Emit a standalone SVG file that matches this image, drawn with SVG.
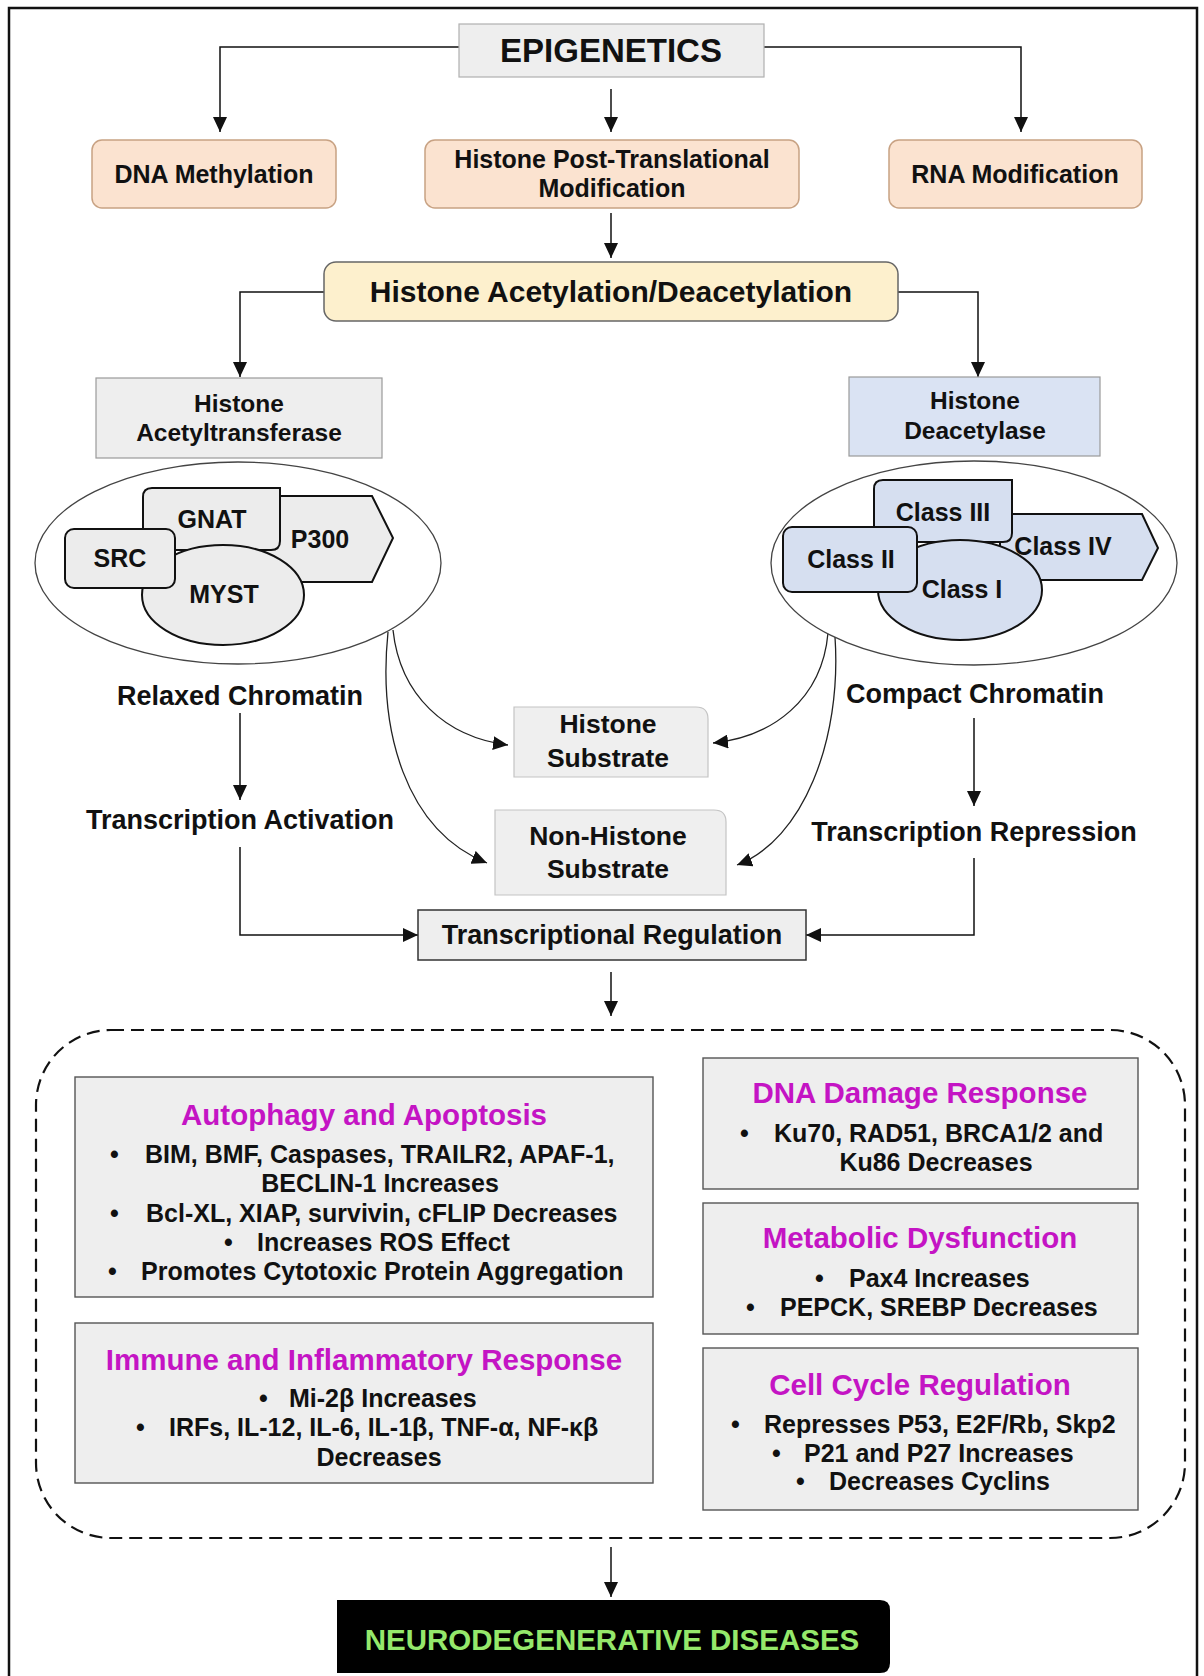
<svg xmlns="http://www.w3.org/2000/svg" width="1204" height="1676" viewBox="0 0 1204 1676">
  <defs>
    <marker id="ah" markerUnits="userSpaceOnUse" markerWidth="15" markerHeight="14" refX="15" refY="7" orient="auto">
      <path d="M0,0 L15,7 L0,14 Z" fill="#111"/>
    </marker>
    <style>
      text{font-family:"Liberation Sans",Arial,sans-serif;font-weight:bold;fill:#111;text-anchor:middle}
      .st{text-anchor:start}
      .f24{font-size:24.5px}
      .f25{font-size:25px}
      .f27{font-size:27px}
      .f30{font-size:30px}
      .ttl{font-size:29.5px;fill:#c414c4}
      .ln{fill:none;stroke:#111;stroke-width:1.5}
      .cv{fill:none;stroke:#222;stroke-width:1.3}
      .peach{fill:#fbe3d0;stroke:#c8a283;stroke-width:1.5}
      .grey{fill:#eeeeee;stroke:#9a9a9a;stroke-width:1.2}
      .blue{fill:#dae3f3;stroke:#9a9a9a;stroke-width:1.2}
      .shp{fill:#ececec;stroke:#111;stroke-width:2}
      .shb{fill:#d6dff0;stroke:#111;stroke-width:2}
      .oval{fill:#fff;stroke:#444;stroke-width:1.3}
      .panel{fill:#eeeeee;stroke:#555;stroke-width:1.4}
    </style>
  </defs>

  <rect x="0" y="0" width="1204" height="1676" fill="#fff"/>
  <!-- page frame, open at the bottom -->
  <path d="M9,1676 V8 H1197 V1676" fill="none" stroke="#111" stroke-width="2.5"/>

  <!-- connectors -->
  <g id="connectors">
    <path class="ln" marker-end="url(#ah)" d="M459,47 H220 V132"/>
    <path class="ln" marker-end="url(#ah)" d="M764,47 H1021 V132"/>
    <path class="ln" marker-end="url(#ah)" d="M611,89 V132"/>
    <path class="ln" marker-end="url(#ah)" d="M611,213 V258"/>
    <path class="ln" marker-end="url(#ah)" d="M324,292 H240 V377"/>
    <path class="ln" marker-end="url(#ah)" d="M898,292 H978 V377"/>
    <path class="cv" marker-end="url(#ah)" d="M393,630 C400,695 445,737 508,745"/>
    <path class="cv" marker-end="url(#ah)" d="M388,632 C378,730 405,830 487,863"/>
    <path class="cv" marker-end="url(#ah)" d="M828,633 C822,700 772,737 713,743"/>
    <path class="cv" marker-end="url(#ah)" d="M835,637 C842,740 803,840 737,865"/>
    <path class="ln" marker-end="url(#ah)" d="M240,713 V800"/>
    <path class="ln" marker-end="url(#ah)" d="M974,718 V806"/>
    <path class="ln" marker-end="url(#ah)" d="M240,847 V935 H418"/>
    <path class="ln" marker-end="url(#ah)" d="M974,858 V935 H806"/>
    <path class="ln" marker-end="url(#ah)" d="M611,972 V1016"/>
    <path class="ln" marker-end="url(#ah)" d="M611,1547 V1597"/>
  </g>

  <g id="epigenetics">
    <rect x="459" y="24" width="305" height="53" fill="#eeeeee" stroke="#b0b0b0" stroke-width="1.2"/>
    <text x="611" y="62" style="font-size:33px">EPIGENETICS</text>
  </g>

  <g id="dna-methylation">
    <rect class="peach" x="92" y="140" width="244" height="68" rx="10"/>
    <text class="f25" x="214" y="183">DNA Methylation</text>
  </g>
  <g id="histone-ptm">
    <rect class="peach" x="425" y="140" width="374" height="68" rx="10"/>
    <text class="f25" x="612" y="168">Histone Post-Translational</text>
    <text class="f25" x="612" y="197">Modification</text>
  </g>
  <g id="rna-modification">
    <rect class="peach" x="889" y="140" width="253" height="68" rx="10"/>
    <text class="f25" x="1015" y="183">RNA Modification</text>
  </g>

  <g id="acetylation">
    <rect x="324" y="262" width="574" height="59" rx="12" fill="#fdf0cd" stroke="#666" stroke-width="1.5"/>
    <text class="f30" x="611" y="302">Histone Acetylation/Deacetylation</text>
  </g>

  <g id="hat">
    <rect class="grey" x="96" y="378" width="286" height="80"/>
    <text class="f24" x="239" y="412">Histone</text>
    <text class="f24" x="239" y="441">Acetyltransferase</text>
  </g>
  <g id="hdac">
    <rect class="blue" x="849" y="377" width="251" height="79"/>
    <text class="f24" x="975" y="409">Histone</text>
    <text class="f24" x="975" y="439">Deacetylase</text>
  </g>

  <g id="hat-families">
    <ellipse class="oval" cx="238" cy="563" rx="203" ry="101"/>
    <polygon class="shp" points="260,496 372,496 393,538 372,582 260,582"/>
    <path class="shp" d="M152,488 H280 V541 Q280,550 271,550 H152 Q143,550 143,541 V497 Q143,488 152,488 Z"/>
    <ellipse class="shp" cx="223" cy="595" rx="81" ry="50"/>
    <rect class="shp" x="65" y="529" width="110" height="59" rx="9"/>
    <text class="f25" x="212" y="528">GNAT</text>
    <text class="f25" x="320" y="548">P300</text>
    <text class="f25" x="120" y="567">SRC</text>
    <text class="f25" x="224" y="603">MYST</text>
  </g>

  <g id="hdac-classes">
    <ellipse class="oval" cx="974" cy="563" rx="203" ry="102"/>
    <polygon class="shb" points="1000,514 1142,514 1158,548 1142,580 1000,580"/>
    <path class="shb" d="M883,480 H1012 V533 Q1012,542 1003,542 H883 Q874,542 874,533 V489 Q874,480 883,480 Z"/>
    <ellipse class="shb" cx="960" cy="590" rx="82" ry="50"/>
    <rect class="shb" x="783" y="527" width="134" height="65" rx="9"/>
    <text class="f25" x="943" y="521">Class III</text>
    <text class="f25" x="1063" y="555">Class IV</text>
    <text class="f25" x="851" y="568">Class II</text>
    <text class="f25" x="962" y="598">Class I</text>
  </g>

  <g id="relaxed-chromatin"><text class="f27" x="240" y="705">Relaxed Chromatin</text></g>
  <g id="transcription-activation"><text class="f27" x="240" y="829">Transcription Activation</text></g>
  <g id="compact-chromatin"><text class="f27" x="975" y="703">Compact Chromatin</text></g>
  <g id="transcription-repression"><text class="f27" x="974" y="841">Transcription Repression</text></g>

  <g id="histone-substrate">
    <path d="M514,707 H696 Q708,707 708,719 V777 H514 Z" fill="#efefef" stroke="#c4c4c4" stroke-width="1.2"/>
    <text x="608" y="733" style="font-size:26.5px">Histone</text>
    <text x="608" y="767" style="font-size:26.5px">Substrate</text>
  </g>
  <g id="non-histone-substrate">
    <path d="M495,810 H714 Q726,810 726,822 V895 H495 Z" fill="#efefef" stroke="#c4c4c4" stroke-width="1.2"/>
    <text x="608" y="845" style="font-size:26.5px">Non-Histone</text>
    <text x="608" y="878" style="font-size:26.5px">Substrate</text>
  </g>

  <g id="transcriptional-regulation">
    <rect x="418" y="910" width="388" height="50" fill="#eeeeee" stroke="#333" stroke-width="1.5"/>
    <text class="f27" x="612" y="944">Transcriptional Regulation</text>
  </g>

  <g id="outcomes">
    <rect x="36" y="1030" width="1149" height="508" rx="75" ry="75" fill="none" stroke="#111" stroke-width="2.2" stroke-dasharray="13 7"/>
  </g>

  <g id="autophagy">
    <rect class="panel" x="75" y="1077" width="578" height="220"/>
    <text class="ttl" x="364" y="1125">Autophagy and Apoptosis</text>
    <text class="f25 st" x="110" y="1163">•</text>
    <text class="f25 st" x="145" y="1163">BIM, BMF, Caspases, TRAILR2, APAF-1,</text>
    <text class="f25" x="380" y="1192">BECLIN-1 Increases</text>
    <text class="f25 st" x="110" y="1222">•</text>
    <text class="f25 st" x="146" y="1222">Bcl-XL, XIAP, survivin, cFLIP Decreases</text>
    <text class="f25 st" x="224" y="1251">•</text>
    <text class="f25 st" x="257" y="1251">Increases ROS Effect</text>
    <text class="f25 st" x="108" y="1280">•</text>
    <text class="f25 st" x="141" y="1280">Promotes Cytotoxic Protein Aggregation</text>
  </g>

  <g id="immune">
    <rect class="panel" x="75" y="1323" width="578" height="160"/>
    <text class="ttl" x="364" y="1370">Immune and Inflammatory Response</text>
    <text class="f25 st" x="259" y="1407">•</text>
    <text class="f25 st" x="289" y="1407">Mi-2β Increases</text>
    <text class="f25 st" x="136" y="1436">•</text>
    <text class="f25 st" x="169" y="1436">IRFs, IL-12, IL-6, IL-1β, TNF-α, NF-κβ</text>
    <text class="f25" x="379" y="1466">Decreases</text>
  </g>

  <g id="dna-damage">
    <rect class="panel" x="703" y="1058" width="435" height="131"/>
    <text class="ttl" x="920" y="1103">DNA Damage Response</text>
    <text class="f25 st" x="740" y="1142">•</text>
    <text class="f25 st" x="774" y="1142">Ku70, RAD51, BRCA1/2 and</text>
    <text class="f25" x="936" y="1171">Ku86 Decreases</text>
  </g>

  <g id="metabolic">
    <rect class="panel" x="703" y="1203" width="435" height="131"/>
    <text class="ttl" x="920" y="1248">Metabolic Dysfunction</text>
    <text class="f25 st" x="815" y="1287">•</text>
    <text class="f25 st" x="849" y="1287">Pax4 Increases</text>
    <text class="f25 st" x="746" y="1316">•</text>
    <text class="f25 st" x="780" y="1316">PEPCK, SREBP Decreases</text>
  </g>

  <g id="cell-cycle">
    <rect class="panel" x="703" y="1348" width="435" height="162"/>
    <text class="ttl" x="920" y="1395">Cell Cycle Regulation</text>
    <text class="f25 st" x="731" y="1433">•</text>
    <text class="f25 st" x="764" y="1433">Represses P53, E2F/Rb, Skp2</text>
    <text class="f25 st" x="772" y="1462">•</text>
    <text class="f25 st" x="804" y="1462">P21 and P27 Increases</text>
    <text class="f25 st" x="796" y="1490">•</text>
    <text class="f25 st" x="829" y="1490">Decreases Cyclins</text>
  </g>

  <g id="neurodegenerative">
    <path d="M337,1600 H880 Q890,1600 890,1610 V1663 Q890,1673 880,1673 H337 Z" fill="#000"/>
    <text x="612" y="1650" style="font-size:29.5px;fill:#95e86b">NEURODEGENERATIVE DISEASES</text>
  </g>
</svg>
